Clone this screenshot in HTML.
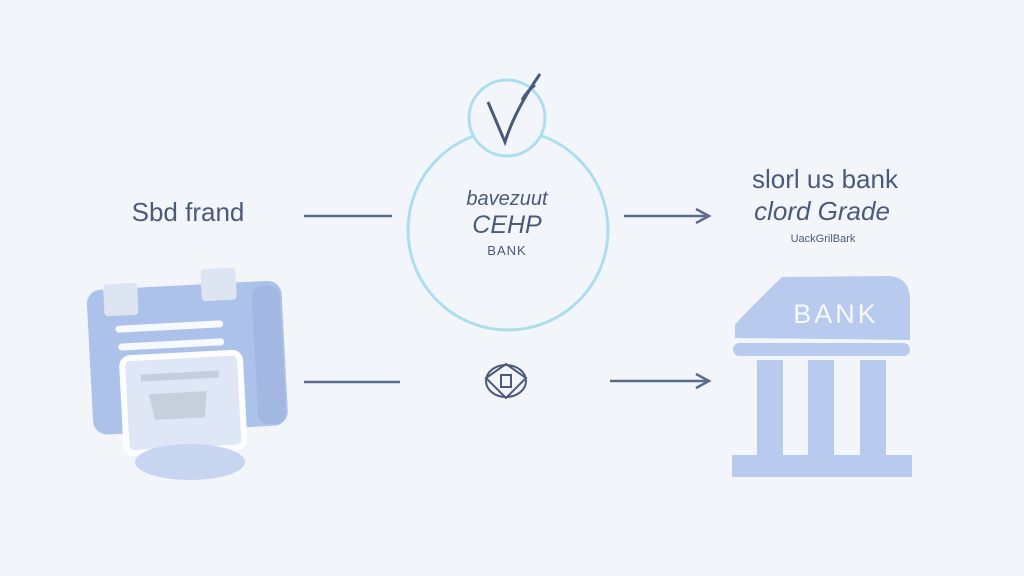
<!DOCTYPE html>
<html><head><style>
html,body{margin:0;padding:0;background:#f2f6fa;}
svg{display:block}
text{font-family:"Liberation Sans",sans-serif;}
</style></head><body>
<svg width="1024" height="576" viewBox="0 0 1024 576">
<rect width="1024" height="576" fill="#f2f6fa"/>
<text x="188" y="221" font-size="26" fill="#4b5a78" text-anchor="middle">Sbd frand</text>
<g transform="rotate(-3 190 360)">
<rect x="90" y="285" width="195" height="145" rx="14" fill="#adc2ea"/>
<rect x="255" y="290" width="28" height="138" rx="10" fill="#a2b8e3"/>
<rect x="107" y="280" width="34" height="32" rx="4" fill="#dde5f2"/>
<rect x="205" y="270" width="35" height="32" rx="4" fill="#dde5f2"/>
<rect x="117" y="322" width="108" height="7" rx="3.5" fill="#f6f9fd"/>
<rect x="119" y="340" width="106" height="7" rx="3.5" fill="#f6f9fd"/>
<rect x="122" y="355" width="118" height="95" rx="8" fill="#dfe7f6" stroke="#fbfdff" stroke-width="6"/>
<rect x="140" y="372" width="78" height="7" fill="#c4cedd"/>
<path d="M147 392 L205 392 L202 418 L152 418 Z" fill="#c7cfdc"/>
</g>
<ellipse cx="190" cy="462" rx="55" ry="18" fill="#c8d5f0"/>
<line x1="304" y1="216" x2="392" y2="216" stroke="#5b6b8b" stroke-width="2.5"/>
<line x1="304" y1="382" x2="400" y2="382" stroke="#5b6b8b" stroke-width="2.5"/>
<line x1="624" y1="216" x2="708" y2="216" stroke="#5b6b8b" stroke-width="2.5"/>
<path d="M696 209 L709 216 L696 223" fill="none" stroke="#5b6b8b" stroke-width="2.5"/>
<line x1="610" y1="381" x2="708" y2="381" stroke="#5b6b8b" stroke-width="2.5"/>
<path d="M696 374 L709 381 L696 388" fill="none" stroke="#5b6b8b" stroke-width="2.5"/>
<circle cx="508" cy="230" r="100" fill="none" stroke="#addeee" stroke-width="3"/>
<circle cx="507" cy="118" r="38" fill="#f2f6fa" stroke="#addeee" stroke-width="3"/>
<path d="M488 102 L505 142 Q515 110 540 74 M522 100 Q528 90 535 85" fill="none" stroke="#4b5a78" stroke-width="3"/>
<text x="507" y="205" font-size="20" font-style="italic" fill="#4b5a78" text-anchor="middle">bavezuut</text>
<text x="507" y="233" font-size="25" font-style="italic" fill="#4b5a78" text-anchor="middle">CEHP</text>
<text x="507" y="255" font-size="13" fill="#4b5a78" text-anchor="middle" letter-spacing="1">BANK</text>
<g stroke="#4b5a78" stroke-width="2" fill="none">
<path d="M506 364 L526 378 L506 398 L486 378 Z"/>
<ellipse cx="506" cy="381" rx="20" ry="16"/>
<rect x="501" y="375" width="10" height="12"/>
</g>
<text x="825" y="188" font-size="26" fill="#4b5a78" text-anchor="middle">slorl us bank</text>
<text x="822" y="220" font-size="26" font-style="italic" fill="#4b5a78" text-anchor="middle">clord Grade</text>
<text x="823" y="242" font-size="11" fill="#4b5a78" text-anchor="middle">UackGrilBark</text>
<path d="M735 338 L735 325 Q740 318 782 277 L890 276 Q910 278 910 300 L910 340 Z" fill="#b8cbee"/>
<text x="836" y="323" font-size="27" fill="#f6f9fd" text-anchor="middle" letter-spacing="3">BANK</text>
<rect x="733" y="343" width="177" height="13" rx="6.5" fill="#b8cbee"/>
<rect x="757" y="360" width="26" height="95" fill="#b8cbee"/>
<rect x="808" y="360" width="26" height="95" fill="#b8cbee"/>
<rect x="860" y="360" width="26" height="95" fill="#b8cbee"/>
<rect x="732" y="455" width="180" height="22" fill="#b8cbee"/>
</svg>
</body></html>
